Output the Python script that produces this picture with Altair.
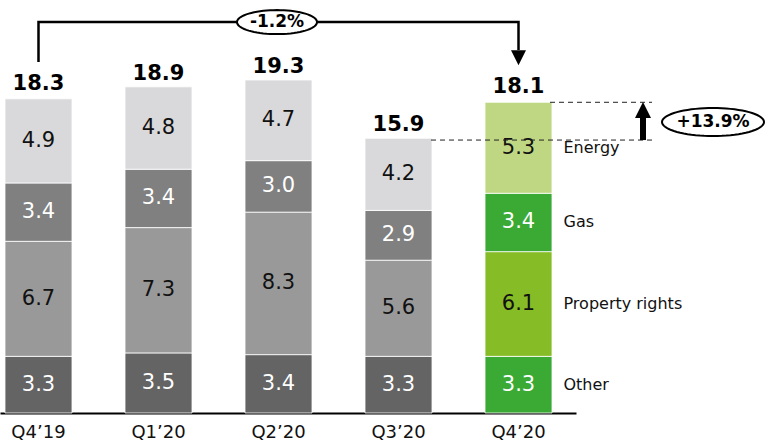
import altair as alt
import pandas as pd
import numpy as np

# ---------------- data ----------------
quarters = ["Q4’19", "Q1’20", "Q2’20", "Q3’20", "Q4’20"]
series = ["Other", "Property rights", "Gas", "Energy"]
other = [3.3, 3.5, 3.4, 3.3, 3.3]
property_rights = [6.7, 7.3, 8.3, 5.6, 6.1]
gas = [3.4, 3.4, 3.0, 2.9, 3.4]
energy = [4.9, 4.8, 4.7, 4.2, 5.3]
totals = [18.3, 18.9, 19.3, 15.9, 18.1]
change_total = "-1.2%"
change_energy = "+13.9%"

gray_colors = ["#646464", "#999999", "#808080", "#D9D9DB"]
green_colors = ["#3BAA35", "#86BC25", "#3BAA35", "#BFD783"]

FONT = "DejaVu Sans"

# ---------------- tables ----------------
values = [other, property_rights, gas, energy]
rows = []
for i, q in enumerate(quarters):
    start = 0.0
    hl = q == quarters[-1]
    for j, s in enumerate(series):
        v = values[j][i]
        rows.append({
            "quarter": q, "series": s, "value": v,
            "start": start, "end": start + v, "mid": start + v / 2,
            "key": s + (" hl" if hl else ""),
        })
        start += v
seg = pd.DataFrame(rows)
tot = pd.DataFrame({"quarter": quarters, "total": totals})

color_domain = series + [s + " hl" for s in series]
color_range = gray_colors + green_colors

ys = alt.Scale(domain=[0, 24], nice=False, zero=True)
xs = alt.Scale(domain=quarters, paddingInner=0.44167, paddingOuter=0.1208, align=0.1724)
X = alt.X("quarter:N", scale=xs, sort=quarters,
          axis=alt.Axis(title=None, ticks=False, labelAngle=0, labelFont=FONT,
                        labelFontSize=18, labelColor="#111", labelPadding=10,
                        domainColor="#000", domainWidth=2, grid=False))

bars = alt.Chart(seg).mark_bar(stroke="white", strokeWidth=0.8).encode(
    x=X,
    y=alt.Y("start:Q", scale=ys, axis=None),
    y2="end:Q",
    color=alt.Color("key:N", scale=alt.Scale(domain=color_domain, range=color_range), legend=None),
)

seg_text = alt.Chart(seg).mark_text(font=FONT, fontSize=21, baseline="middle").encode(
    x=X,
    y=alt.Y("mid:Q", scale=ys),
    text=alt.Text("value:Q", format=".1f"),
    color=alt.condition("datum.series == 'Other' || datum.series == 'Gas'",
                        alt.value("white"), alt.value("#111")),
)

tot_text = alt.Chart(tot).mark_text(font=FONT, fontSize=21, fontWeight="bold",
                                    baseline="alphabetic", dy=-9, color="black").encode(
    x=X,
    y=alt.Y("total:Q", scale=ys),
    text=alt.Text("total:Q", format=".1f"),
)

cat_text = alt.Chart(seg[seg.quarter == quarters[-1]]).mark_text(
    font=FONT, fontSize=16, align="left", baseline="middle", dx=45, color="#111").encode(
    x=X,
    y=alt.Y("mid:Q", scale=ys),
    text="series:N",
)

# bracket from first to last quarter
bracket_level = 22.77
bracket = pd.DataFrame({
    "quarter": [quarters[0], quarters[0], quarters[-1], quarters[-1]],
    "lvl": [20.44, bracket_level, bracket_level, 21.14],
    "o": [0, 1, 2, 3],
})
bracket_line = alt.Chart(bracket).mark_line(color="black", strokeWidth=2.5,
                                            strokeJoin="miter").encode(
    x=X,
    y=alt.Y("lvl:Q", scale=ys),
    order="o:Q",
)

down_head = alt.Chart(pd.DataFrame({"quarter": [quarters[-1]], "lvl": [20.70]})).mark_point(
    shape="M -1 -1 L 1 -1 L 0 1 Z", size=225, filled=True, color="black", opacity=1).encode(
    x=X, y=alt.Y("lvl:Q", scale=ys))


def ellipse_path(ry, n=72):
    t = np.linspace(0, 2 * np.pi, n, endpoint=False)
    pts = [f"{np.cos(a):.4f} {ry * np.sin(a):.4f}" for a in t]
    return "M " + " L ".join(pts) + " Z"


ell1_df = pd.DataFrame({"lvl": [bracket_level], "label": [change_total]})
ell1 = alt.Chart(ell1_df).mark_point(
    shape=ellipse_path(0.30), size=6400, filled=True, fill="white",
    stroke="black", strokeWidth=2, opacity=1).encode(
    x=alt.value(277), y=alt.Y("lvl:Q", scale=ys))
ell1_t = alt.Chart(ell1_df).mark_text(font=FONT, fontSize=17, fontWeight="bold",
                                      baseline="middle", color="black").encode(
    x=alt.value(277), y=alt.Y("lvl:Q", scale=ys), text="label:N")

# dashed reference lines
dash1 = alt.Chart(pd.DataFrame({"lvl": [totals[3]]})).mark_rule(
    strokeDash=[5, 4], color="#222", strokeWidth=1).encode(
    x=alt.value(431), x2=alt.value(652), y=alt.Y("lvl:Q", scale=ys))
dash2 = alt.Chart(pd.DataFrame({"lvl": [totals[4]]})).mark_rule(
    strokeDash=[5, 4], color="#222", strokeWidth=1).encode(
    x=alt.value(550), x2=alt.value(652), y=alt.Y("lvl:Q", scale=ys))

# up arrow
shaft = alt.Chart(pd.DataFrame({"a": [totals[3]], "b": [17.2]})).mark_rule(
    color="black", strokeWidth=6).encode(
    x=alt.value(643), y=alt.Y("a:Q", scale=ys), y2="b:Q")
up_head = alt.Chart(pd.DataFrame({"lvl": [17.65]})).mark_point(
    shape="M -1 1 L 1 1 L 0 -1 Z", size=256, filled=True, color="black", opacity=1).encode(
    x=alt.value(643), y=alt.Y("lvl:Q", scale=ys))

ell2_df = pd.DataFrame({"lvl": [16.95], "label": [change_energy]})
ell2 = alt.Chart(ell2_df).mark_point(
    shape=ellipse_path(0.2745), size=10404, filled=True, fill="white",
    stroke="black", strokeWidth=2, opacity=1).encode(
    x=alt.value(713), y=alt.Y("lvl:Q", scale=ys))
ell2_t = alt.Chart(ell2_df).mark_text(font=FONT, fontSize=17, fontWeight="bold",
                                      baseline="middle", color="black").encode(
    x=alt.value(713), y=alt.Y("lvl:Q", scale=ys), text="label:N")

chart = alt.layer(
    bars, seg_text, tot_text, cat_text,
    bracket_line, down_head, ell1, ell1_t,
    dash1, dash2, shaft, up_head, ell2, ell2_t,
).properties(
    width=576, height=412,
    autosize=alt.AutoSizeParams(type="none"),
    padding={"left": 0, "top": 1, "right": 189, "bottom": 28},
    background="white",
).configure_view(stroke=None)

chart.save("out.html", embed_options={"renderer": "svg", "actions": False})
